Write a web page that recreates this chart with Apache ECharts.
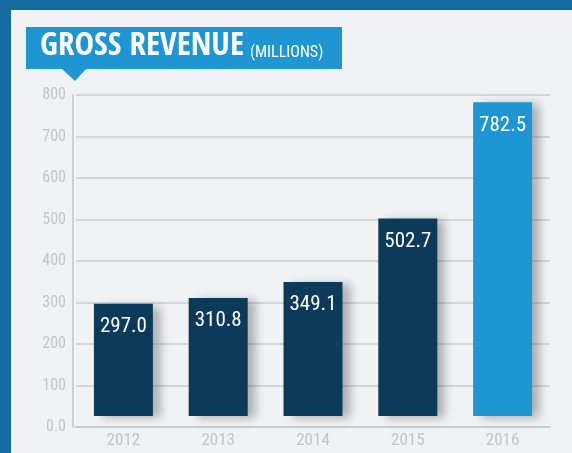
<!DOCTYPE html>
<html>
<head>
<meta charset="utf-8">
<script src="https://cdn.jsdelivr.net/npm/echarts@6/dist/echarts.min.js"></script>
<style>
  html, body { margin: 0; padding: 0; }
  #chart { width: 572px; height: 453px; }
</style>
</head>
<body>
<div id="chart"></div>
<script>
// data
var years = ['2012', '2013', '2014', '2015', '2016'];
var revenue = [297.0, 310.8, 349.1, 502.7, 782.5];
var barColors = ['#0b3a5b', '#0b3a5b', '#0b3a5b', '#0b3a5b', '#1e96d3'];
var yTicks = [0, 100, 200, 300, 400, 500, 600, 700, 800];

var font = '"Roboto Condensed", "Open Sans Condensed", sans-serif';
var titleFont = '"Open Sans Condensed", "Roboto Condensed", sans-serif';

var chart = echarts.init(document.getElementById('chart'));

var option = {
  backgroundColor: '#f1f2f4',
  animation: false,
  grid: { left: 76, right: 22, top: 95, bottom: 26 },
  graphic: [
    // blue frame
    { type: 'rect', left: 0, top: 0, shape: { width: 572, height: 10 }, style: { fill: '#166ba0' } },
    { type: 'rect', left: 0, top: 0, shape: { width: 11, height: 453 }, style: { fill: '#166ba0' } },
    // title banner
    { type: 'rect', left: 26, top: 27, shape: { width: 316, height: 42 }, style: { fill: '#1e96d3' } },
    { type: 'polygon', shape: { points: [[62, 69], [86, 69], [75, 81]] }, style: { fill: '#1e96d3' } },
    {
      type: 'text', left: 40, top: 30,
      style: { text: 'GROSS REVENUE', fill: '#fff', font: 'bold 33px ' + titleFont }
    },
    {
      type: 'text', left: 250, top: 45,
      style: { text: '(MILLIONS)', fill: '#fff', font: '16px ' + font }
    }
  ],
  xAxis: {
    type: 'category',
    data: years,
    axisLine: { lineStyle: { color: '#c6c6c6', width: 1.5 } },
    axisTick: { show: false },
    axisLabel: { color: '#c4c4c4', fontFamily: font, fontSize: 17, margin: 5 }
  },
  yAxis: {
    type: 'value',
    min: yTicks[0],
    max: yTicks[yTicks.length - 1],
    interval: 100,
    offset: 3,
    axisLine: { show: true, lineStyle: { color: '#c6c6c6', width: 1.5 } },
    axisTick: { show: false },
    splitLine: { lineStyle: { color: '#cdcdcd', width: 1.5 } },
    axisLabel: {
      color: '#c4c4c4', fontFamily: font, fontSize: 16, margin: 7,
      formatter: function (v) { return v === 0 ? '0.0' : String(v); }
    }
  },
  series: [{
    type: 'custom',
    data: revenue.map(function (v, i) { return [i, v]; }),
    renderItem: function (params, api) {
      var i = api.value(0);
      var top = api.coord([i, api.value(1)]);
      var zero = api.coord([i, 0]);
      var w = 59;
      var bottom = zero[1] - 11;
      return {
        type: 'group',
        children: [
          {
            type: 'rect',
            shape: { x: top[0] - w / 2, y: top[1], width: w, height: bottom - top[1] },
            style: {
              fill: barColors[i],
              shadowBlur: 9,
              shadowOffsetX: 8,
              shadowOffsetY: 2,
              shadowColor: 'rgba(0,0,0,0.28)'
            }
          },
          {
            type: 'text',
            x: top[0],
            y: top[1] + 23,
            style: {
              text: api.value(1).toFixed(1),
              fill: '#fff',
              font: '21px ' + font,
              align: 'center',
              verticalAlign: 'middle'
            }
          }
        ]
      };
    }
  }]
};

chart.setOption(option);
</script>
</body>
</html>
